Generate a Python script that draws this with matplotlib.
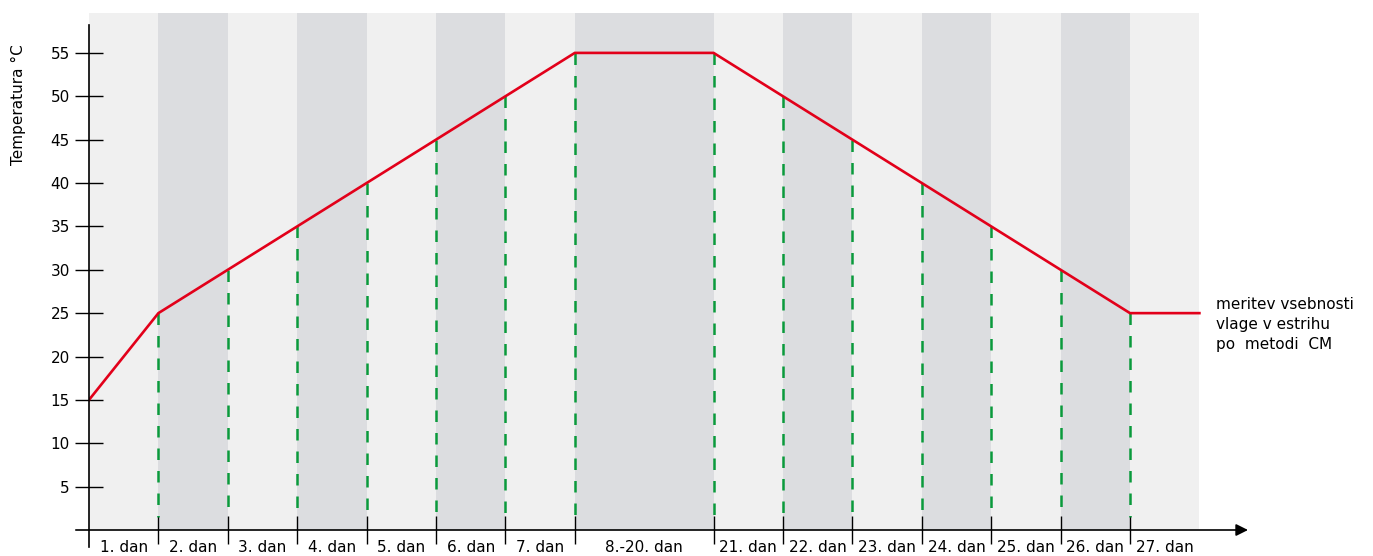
import matplotlib
matplotlib.use('Agg')
import matplotlib.pyplot as plt

# days shown on the x axis (band labels) and how many units each band spans
day_labels = ['1. dan', '2. dan', '3. dan', '4. dan', '5. dan', '6. dan', '7. dan',
              '8.-20. dan', '21. dan', '22. dan', '23. dan', '24. dan', '25. dan',
              '26. dan', '27. dan']
day_widths = [1, 1, 1, 1, 1, 1, 1, 2, 1, 1, 1, 1, 1, 1, 1]

# heating curve: temperature at each band boundary
temps = [15, 25, 30, 35, 40, 45, 50, 55, 55, 50, 45, 40, 35, 30, 25, 25]

y_ticks = [5, 10, 15, 20, 25, 30, 35, 40, 45, 50, 55]

note = 'meritev vsebnosti\nvlage v estrihu\npo  metodi  CM'

light = '#f0f0f0'
dark = '#dcdde0'
red = '#e2001a'
green = '#0a9a3c'

W, H = 1373, 556
fig = plt.figure(figsize=(W / 100, H / 100), dpi=100)
ax = fig.add_axes([89 / W, 26 / H, (1248 - 89) / W, (530 - 13) / H])
xmax = (1248 - 89) / 69.4
ymax = 59.6
ax.set_xlim(0, xmax)
ax.set_ylim(0, ymax)
for s in ax.spines.values():
    s.set_visible(False)
ax.patch.set_alpha(0)

# boundaries of the bands
edges = [0]
for w in day_widths:
    edges.append(edges[-1] + w)

for i in range(len(day_widths)):
    ax.axvspan(edges[i], edges[i + 1], color=dark if i % 2 else light, lw=0, zorder=0)

# dashed drop lines from the curve
for x, t in zip(edges[1:-1], temps[1:-1]):
    ax.plot([x, x], [t, 1.5], color=green, lw=1.8, dashes=(4.6, 4.4), zorder=2)

ax.plot(edges, temps, color=red, lw=1.9, zorder=3, solid_joinstyle='miter')

# axes lines
ax.plot([0, 0], [-1.95, 58.2], color='black', lw=1.2, clip_on=False, zorder=4)
ax.annotate('', xy=(xmax, 0), xytext=(-0.19, 0),
            arrowprops=dict(arrowstyle='-|>', color='black', lw=1.2,
                            mutation_scale=18, shrinkA=0, shrinkB=0),
            annotation_clip=False, zorder=4)

ax.set_yticks(y_ticks)
ax.set_yticklabels([str(v) for v in y_ticks])
ax.tick_params(axis='y', direction='inout', length=19.5, width=1.0,
               labelsize=11, pad=4, colors='black')

ax.set_xticks(edges[1:-1])
ax.set_xticklabels([])
ax.tick_params(axis='x', which='major', direction='inout', length=20, width=1.0)
centers = [(edges[i] + edges[i + 1]) / 2 for i in range(len(day_widths))]
ax.set_xticks(centers, minor=True)
ax.set_xticklabels(day_labels, minor=True)
ax.tick_params(axis='x', which='minor', length=0, labelsize=11, pad=7)

fig.text(18 / W, 1 - 105 / H, 'Temperatura °C', rotation=90,
         ha='center', va='center', fontsize=11)
fig.text(1216 / W, 1 - 297 / H, note, ha='left', va='top', fontsize=11,
         linespacing=1.4)

fig.savefig('out.png', dpi=100)
